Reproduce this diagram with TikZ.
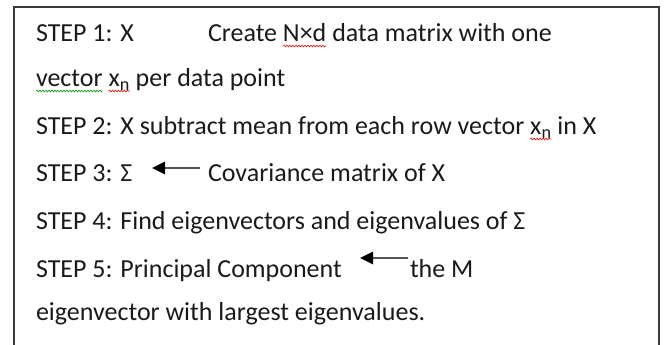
\documentclass[tikz,border=0pt]{standalone}
\usepackage{fontspec}
\setmainfont{Carlito}
\usetikzlibrary{arrows.meta,decorations.pathmorphing}

\definecolor{inkdark}{HTML}{1A1A1A}
\definecolor{framegray}{HTML}{3A3A3A}
\definecolor{shaftgray}{HTML}{555555}
\definecolor{spellred}{HTML}{E02020}
\definecolor{spellgreen}{HTML}{20A020}

% width of one inter-word space in the body font
\newlength\wordgap
\settowidth{\wordgap}{\fontsize{26pt}{31pt}\selectfont\ }

\begin{document}
\begin{tikzpicture}[x=1pt,y=-1pt,
  txt/.style={anchor=base west, inner sep=0pt, outer sep=0pt,
    font=\fontsize{26pt}{31pt}\selectfont, text=inkdark},
  frame/.style={draw=framegray, line width=2pt},
  squiggle/.style={line width=0.7pt,
    decorate, decoration={snake, amplitude=0.9pt, segment length=3pt}},
  pointer/.style={draw=shaftgray, line width=2.6pt,
    -{Triangle[length=13pt,width=12pt,color=black]}}]

\useasboundingbox (0,0) rectangle (665,345);

% open-bottom frame
\draw[frame] (14,360) -- (14,7) -- (659,7) -- (659,360);

% line 1
\node[txt] (l1a) at (36,42) {STEP 1: X};
\node[txt] (l1b) at (208,42) {Create};
\node[txt] (l1c) at ([xshift=\wordgap]l1b.base east) {N×d};
\node[txt] (l1d) at ([xshift=\wordgap]l1c.base east) {data matrix with one};
\draw[squiggle, spellred] ([yshift=-4pt]l1c.base west) -- ([yshift=-4pt]l1c.base east);

% line 2
\node[txt] (l2a) at (36,87) {vector};
\node[txt] (l2b) at ([xshift=\wordgap]l2a.base east) {x\textsubscript{n}};
\node[txt] (l2c) at ([xshift=\wordgap]l2b.base east) {per data point};
\draw[squiggle, spellgreen] ([yshift=-4pt]l2a.base west) -- ([yshift=-4pt]l2a.base east);
\draw[squiggle, spellred] ([yshift=-4pt]l2b.base west) -- ([yshift=-4pt]l2b.base east);

% line 3
\node[txt] (l3a) at (36,135) {STEP 2: X subtract mean from each row vector};
\node[txt] (l3b) at ([xshift=\wordgap]l3a.base east) {x\textsubscript{n}};
\node[txt] (l3c) at ([xshift=\wordgap]l3b.base east) {in X};
\draw[squiggle, spellred] ([yshift=-4pt]l3b.base west) -- ([yshift=-4pt]l3b.base east);

% line 4
\node[txt] (l4a) at (36,182) {STEP 3: Σ};
\node[txt] (l4b) at (208,182) {Covariance matrix of X};
\coordinate (p1s) at (200,168);
\coordinate (p1e) at (152,168);
\draw[pointer] (p1s) -- (p1e);

% line 5
\node[txt] (l5a) at (36,229) {STEP 4: Find eigenvectors and eigenvalues of Σ};

% line 6
\node[txt] (l6a) at (36,277) {STEP 5: Principal Component};
\node[txt] (l6b) at (410,277) {the M};
\coordinate (p2s) at (408,258);
\coordinate (p2e) at (360,258);
\draw[pointer] (p2s) -- (p2e);

% line 7
\node[txt] (l7a) at (36,320) {eigenvector with largest eigenvalues.};
\end{tikzpicture}
\end{document}
